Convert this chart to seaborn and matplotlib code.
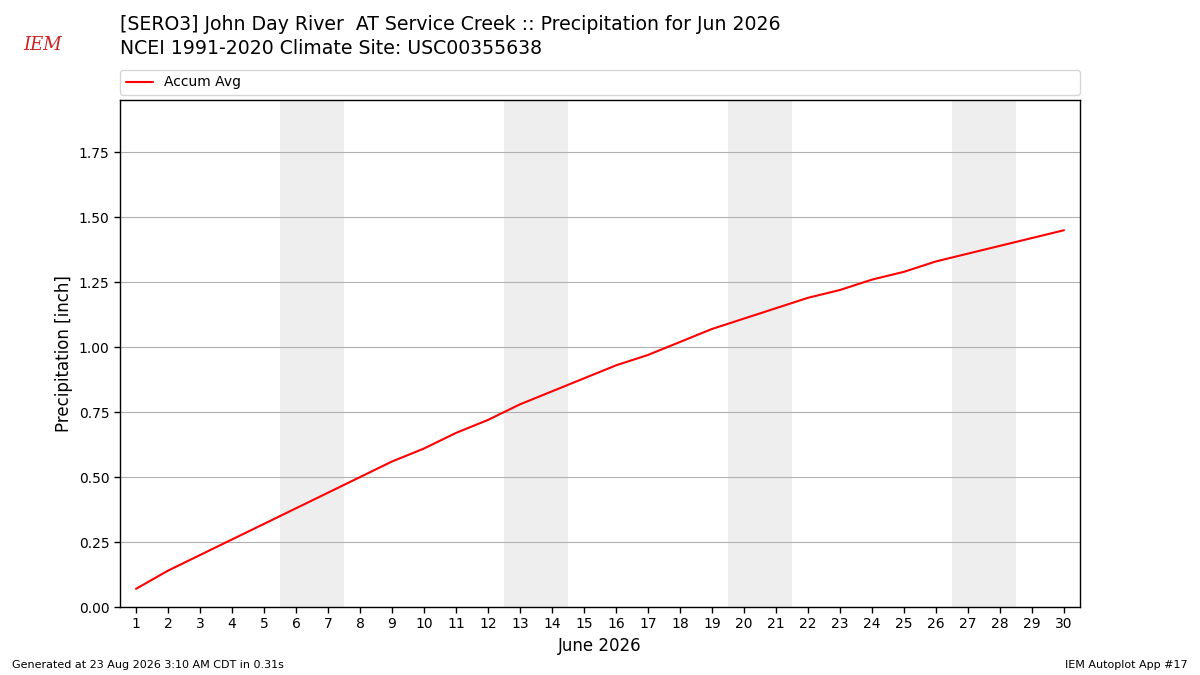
import matplotlib
matplotlib.use("Agg")
import matplotlib.pyplot as plt
import seaborn as sns
import pandas as pd

days = list(range(1, 31))
accum_avg = [0.07, 0.14, 0.20, 0.26, 0.32, 0.38, 0.44, 0.50, 0.56, 0.61,
             0.67, 0.72, 0.78, 0.83, 0.88, 0.93, 0.97, 1.02, 1.07, 1.11,
             1.15, 1.19, 1.22, 1.26, 1.29, 1.33, 1.36, 1.39, 1.42, 1.45]
weekends = [(6, 7), (13, 14), (20, 21), (27, 28)]
yticks = [0.0, 0.25, 0.5, 0.75, 1.0, 1.25, 1.5, 1.75]

sns.set_style("white")
plt.rcParams['font.family'] = ['DejaVu Sans']
plt.rcParams['text.color'] = 'black'
plt.rcParams['axes.labelcolor'] = 'black'
plt.rcParams['xtick.color'] = 'black'
plt.rcParams['ytick.color'] = 'black'

df = pd.DataFrame({"day": days, "Accum Avg": accum_avg})

fig = plt.figure(figsize=(12, 6.75), dpi=100)
ax = fig.add_axes([0.1, 0.1007, 0.8, 0.7511])

for a, b in weekends:
    ax.axvspan(a - 0.5, b + 0.5, color="#eeeeee", zorder=0, lw=0)

sns.lineplot(data=df, x="day", y="Accum Avg", color="red", lw=1.5, ax=ax,
             label="Accum Avg", zorder=3)

ax.set_xlim(0.5, 30.5)
ax.set_ylim(0, 1.951)
ax.set_xticks(days)
ax.set_xticklabels([str(d) for d in days], fontsize=10)
ax.set_yticks(yticks)
ax.set_yticklabels([f"{v:.2f}" for v in yticks], fontsize=10)
ax.tick_params(axis="both", direction="out", length=4, width=1, bottom=True, left=True,
               colors="black")
ax.yaxis.grid(True, color="#b0b0b0", lw=0.8, zorder=1)
ax.xaxis.grid(False)
ax.set_axisbelow(True)
for s in ax.spines.values():
    s.set_color("black")
    s.set_linewidth(1)
ax.set_xlabel("June 2026", fontsize=12, color="black")
ax.set_ylabel("Precipitation [inch]", fontsize=12, color="black")

leg = ax.legend(loc="lower left", bbox_to_anchor=(0, 1.01, 1, 0.05), mode="expand",
                ncol=1, fontsize=10, frameon=True, borderaxespad=0)
for t in leg.get_texts():
    t.set_color("black")

fig.text(0.1, 0.963, "[SERO3] John Day River  AT Service Creek :: Precipitation for Jun 2026",
         fontsize=13.6, ha="left", va="center", color="black")
fig.text(0.1, 0.928, "NCEI 1991-2020 Climate Site: USC00355638",
         fontsize=13.6, ha="left", va="center", color="black")
fig.text(0.019, 0.933, "IEM", fontsize=13, color="#cc2222", style="italic",
         family="DejaVu Serif", ha="left", va="center")
fig.text(0.01, 0.015, "Generated at 23 Aug 2026 3:10 AM CDT in 0.31s", fontsize=8,
         ha="left", va="center", color="black")
fig.text(0.99, 0.015, "IEM Autoplot App #17", fontsize=8, ha="right", va="center",
         color="black")

fig.savefig("out.png", dpi=100)
